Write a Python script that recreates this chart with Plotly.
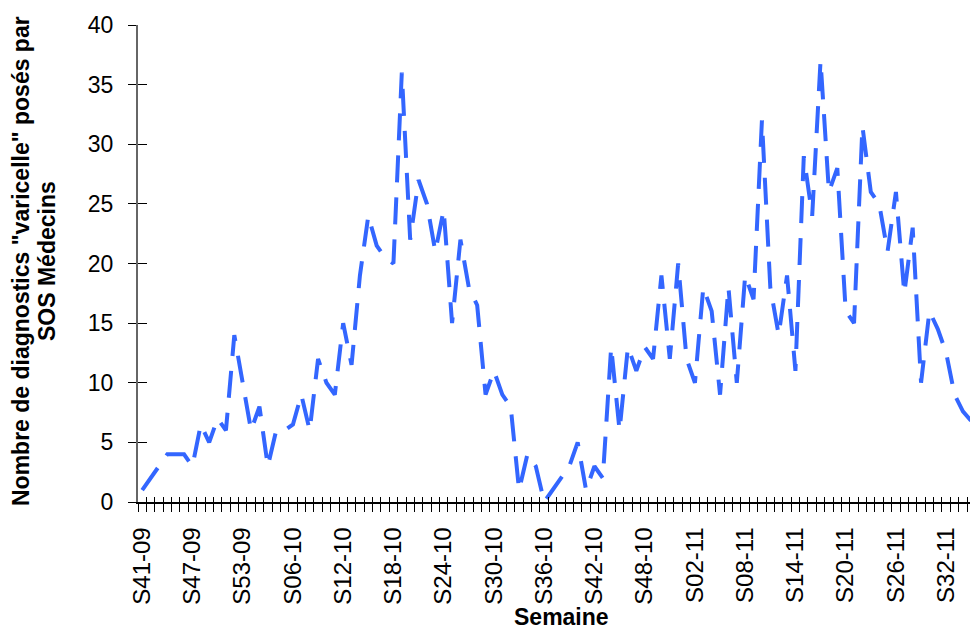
import plotly.graph_objects as go

weeks = [
    "S41-09", "S42-09", "S43-09", "S44-09", "S45-09", "S46-09", "S47-09", "S48-09", "S49-09", "S50-09",
    "S51-09", "S52-09", "S53-09",
    "S01-10", "S02-10", "S03-10", "S04-10", "S05-10", "S06-10", "S07-10", "S08-10", "S09-10", "S10-10",
    "S11-10", "S12-10", "S13-10", "S14-10", "S15-10", "S16-10", "S17-10", "S18-10", "S19-10", "S20-10",
    "S21-10", "S22-10", "S23-10", "S24-10", "S25-10", "S26-10", "S27-10", "S28-10", "S29-10", "S30-10",
    "S31-10", "S32-10", "S33-10", "S34-10", "S35-10", "S36-10", "S37-10", "S38-10", "S39-10", "S40-10",
    "S41-10", "S42-10", "S43-10", "S44-10", "S45-10", "S46-10", "S47-10", "S48-10", "S49-10", "S50-10",
    "S51-10", "S52-10",
    "S01-11", "S02-11", "S03-11", "S04-11", "S05-11", "S06-11", "S07-11", "S08-11", "S09-11", "S10-11",
    "S11-11", "S12-11", "S13-11", "S14-11", "S15-11", "S16-11", "S17-11", "S18-11", "S19-11", "S20-11",
    "S21-11", "S22-11", "S23-11", "S24-11", "S25-11", "S26-11", "S27-11", "S28-11", "S29-11", "S30-11",
    "S31-11", "S32-11", "S33-11", "S34-11", "S35-11",
]

diagnostics = [
    1, 2, 3, 4, 4, 4, 3, 6.5, 5, 7,
    6, 14, 10, 6, 8, 3, 6, 6, 6.5, 9,
    6, 12, 10, 9, 15, 11.5, 19, 24, 21.5, 20.5,
    20, 36, 22, 27, 25, 21, 24.5, 15, 22, 18,
    16.5, 9, 11, 9, 8, 1, 4, 3, 0, 1,
    2, 3, 5, 1, 3, 2, 13, 6, 13, 11,
    13, 12, 19, 12, 20, 12, 10, 18, 16, 9,
    18, 10, 19, 17, 32, 18, 14, 19, 11, 29,
    24, 37, 26, 28, 16, 15, 31.5, 26, 25, 21,
    26, 17.5, 23, 10, 16, 14.5, 12.5, 9, 7.6, 6.8,
]

label_step = 6
y_ticks = [0, 5, 10, 15, 20, 25, 30, 35, 40]

FONT = "Liberation Sans, Arial, sans-serif"
x_idx = list(range(len(weeks)))
x_range = [-0.5, 99.8]
y_range = [0, 40]

# page body has an 8px margin: figure is placed at (8, 8) in the window
OFF = 8
PL, PR, PT, PB = 138, 978, 25, 502  # plot area in window pixels


def px(wx):
    return (wx - PL) / (PR - PL)


def py(wy):
    return (PB - wy) / (PB - PT)


fig = go.Figure()
fig.add_trace(go.Scatter(
    x=x_idx, y=diagnostics, mode="lines", text=weeks,
    hovertemplate="%{text}: %{y}<extra></extra>",
    line=dict(color="#3366FF", width=4, dash="27px,15px"),
    showlegend=False,
))
# transparent copy so that the overlay axes (inner half of the crossing ticks) are drawn
fig.add_trace(go.Scatter(
    x=x_idx, y=diagnostics, mode="lines", xaxis="x2", yaxis="y2",
    line=dict(color="rgba(0,0,0,0)", width=1), hoverinfo="skip",
    showlegend=False,
))

fig.update_layout(
    width=978 - OFF, height=630 - OFF,
    margin=dict(l=PL - OFF, r=0, t=PT - OFF, b=630 - PB),
    paper_bgcolor="white", plot_bgcolor="white",
    showlegend=False,
    font=dict(family=FONT, color="black"),
    xaxis=dict(
        range=x_range, tickmode="array",
        tickvals=x_idx[::label_step], ticktext=weeks[::label_step],
        tickangle=-90, ticks="outside", ticklen=8, tickcolor="rgba(0,0,0,0)",
        ticklabelstandoff=6,
        tickfont=dict(family=FONT, size=24, color="black"),
        showline=True, linecolor="black", linewidth=1.5,
        showgrid=False, zeroline=False,
        minor=dict(tick0=-0.5, dtick=1, ticks="outside", ticklen=8,
                   tickcolor="black", tickwidth=1, showgrid=False),
    ),
    yaxis=dict(
        range=y_range, tickmode="array", tickvals=y_ticks,
        ticks="outside", ticklen=8, tickcolor="black", tickwidth=1,
        ticklabelstandoff=10,
        tickfont=dict(family=FONT, size=23, color="black"),
        showline=True, linecolor="#666666", linewidth=2,
        showgrid=False, zeroline=False,
    ),
    xaxis2=dict(
        overlaying="x", anchor="y", side="bottom", range=x_range,
        tickmode="linear", tick0=-0.5, dtick=1, ticks="inside", ticklen=5,
        tickcolor="black", tickwidth=1, showticklabels=False,
        showline=False, showgrid=False, zeroline=False,
    ),
    yaxis2=dict(
        overlaying="y", anchor="x", side="left", range=y_range,
        tickmode="array", tickvals=y_ticks, ticks="inside", ticklen=9,
        tickcolor="black", tickwidth=1, showticklabels=False,
        showline=False, showgrid=False, zeroline=False,
    ),
    annotations=[
        dict(text="<b>Semaine</b>", xref="paper", yref="paper",
             x=px(561), y=py(617),
             xanchor="center", yanchor="middle", showarrow=False,
             font=dict(family=FONT, size=23, color="black")),
        dict(text='<b>Nombre de diagnostics "varicelle" posés par</b>',
             xref="paper", yref="paper",
             x=px(21), y=py(261), textangle=-90,
             xanchor="center", yanchor="middle", showarrow=False,
             font=dict(family=FONT, size=23, color="black")),
        dict(text="<b>SOS Médecins</b>",
             xref="paper", yref="paper",
             x=px(47), y=py(261), textangle=-90,
             xanchor="center", yanchor="middle", showarrow=False,
             font=dict(family=FONT, size=23, color="black")),
    ],
)

fig.write_html("out.html", config={"displayModeBar": False})
